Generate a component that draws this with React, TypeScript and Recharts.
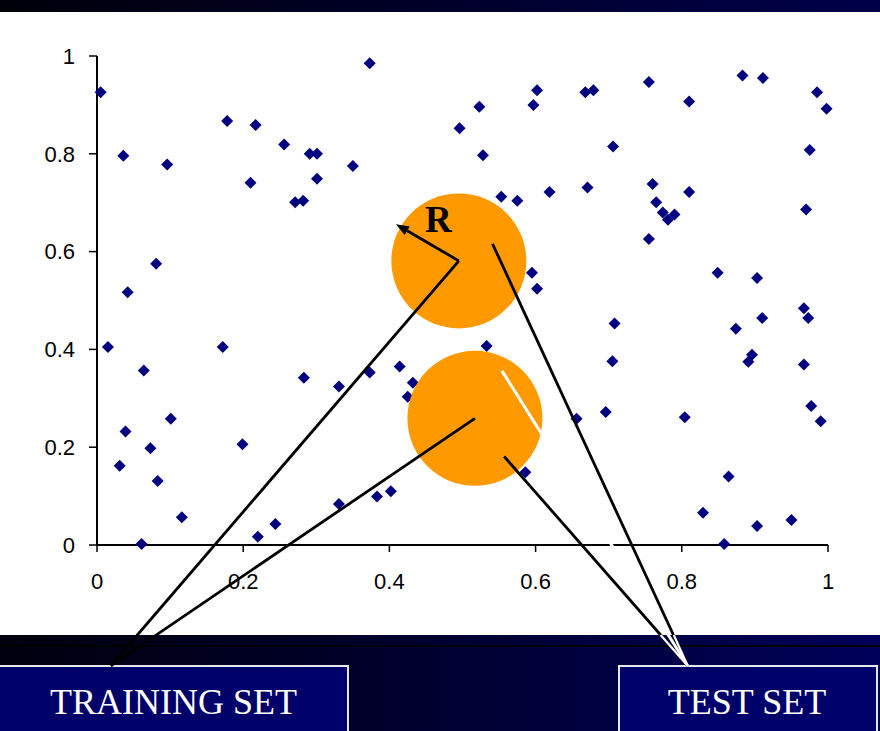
import { ScatterChart, Scatter, XAxis, YAxis, ReferenceDot, ReferenceLine } from 'recharts'

// scattered sample points
const pointX = [
  0.005, 0.036, 0.096, 0.178, 0.217, 0.256, 0.291, 0.301, 0.21, 0.301,
  0.271, 0.282, 0.081, 0.042, 0.373, 0.602, 0.668, 0.597, 0.523, 0.496,
  0.528, 0.35, 0.553, 0.575, 0.619, 0.671, 0.595, 0.602, 0.679, 0.755,
  0.81, 0.883, 0.911, 0.985, 0.998, 0.706, 0.975, 0.76, 0.81, 0.765,
  0.774, 0.79, 0.781, 0.755, 0.97, 0.849, 0.903, 0.015, 0.172, 0.064,
  0.283, 0.331, 0.101, 0.039, 0.073, 0.199, 0.031, 0.083, 0.116, 0.244,
  0.22, 0.061, 0.331, 0.533, 0.414, 0.373, 0.432, 0.425, 0.656, 0.586,
  0.383, 0.402, 0.708, 0.705, 0.696, 0.804, 0.874, 0.91, 0.967, 0.973,
  0.896, 0.891, 0.967, 0.977, 0.99, 0.864, 0.829, 0.903, 0.95, 0.858,
]
const pointY = [
  0.926, 0.796, 0.778, 0.867, 0.859, 0.819, 0.8, 0.8, 0.741, 0.749,
  0.701, 0.704, 0.575, 0.517, 0.985, 0.93, 0.926, 0.9, 0.896, 0.852,
  0.797, 0.775, 0.712, 0.704, 0.722, 0.731, 0.557, 0.524, 0.93, 0.947,
  0.907, 0.96, 0.955, 0.926, 0.892, 0.815, 0.808, 0.738, 0.722, 0.701,
  0.68, 0.676, 0.665, 0.626, 0.686, 0.557, 0.546, 0.405, 0.405, 0.357,
  0.342, 0.324, 0.258, 0.232, 0.198, 0.206, 0.162, 0.131, 0.057, 0.043,
  0.017, 0.002, 0.084, 0.407, 0.365, 0.353, 0.332, 0.303, 0.258, 0.149,
  0.099, 0.11, 0.453, 0.376, 0.272, 0.261, 0.442, 0.464, 0.484, 0.464,
  0.389, 0.375, 0.369, 0.284, 0.253, 0.14, 0.066, 0.039, 0.051, 0.002,
]
const axisTicks = [0, 0.2, 0.4, 0.6, 0.8, 1]

// annotation anchors (data units; negative y = below the axis, at the boxes)
const circleCenters = [
  { x: 0.495, y: 0.581 },
  { x: 0.517, y: 0.259 },
]
const trainingAnchor = { x: 0.019, y: -0.247 }
const testAnchor = { x: 0.808, y: -0.247 }
const testStarts = [
  { x: 0.541, y: 0.616 },
  { x: 0.557, y: 0.181 },
]
const testBandStarts = [
  { x: 0.789, y: -0.184 },
  { x: 0.771, y: -0.184 },
]
const whiteStrokeStart = { x: 0.554, y: 0.356 }
const arrowTip = { x: 0.409, y: 0.656 }
const radiusLabel = { x: 0.467, y: 0.665 }

const points = pointX.map((x, i) => ({ x, y: pointY[i] }))

const Diamond = (p: any) => {
  const { cx, cy } = p
  const s = 6
  return <polygon points={`${cx},${cy - s} ${cx + s},${cy} ${cx},${cy + s} ${cx - s},${cy}`} fill="#000080" />
}

const Arrow = (p: any) => {
  const { x1, y1, x2, y2 } = p
  const a = Math.atan2(y2 - y1, x2 - x1)
  const len = 13
  const w = 5
  const bx = x2 - len * Math.cos(a)
  const by = y2 - len * Math.sin(a)
  const pts = `${x2},${y2} ${bx + w * Math.sin(a)},${by - w * Math.cos(a)} ${bx - w * Math.sin(a)},${by + w * Math.cos(a)}`
  return (
    <g>
      <line x1={x1} y1={y1} x2={bx} y2={by} stroke="#000" strokeWidth={2.8} />
      <polygon points={pts} fill="#000" />
    </g>
  )
}

const tickStyle = { fontSize: 22, fill: '#000', fontFamily: '"Liberation Sans", Arial, sans-serif' }
const boxText = {
  position: 'absolute' as const,
  top: 684,
  color: '#fff',
  fontFamily: '"Liberation Serif", "Times New Roman", serif',
  fontSize: 36,
  lineHeight: '36px',
  textAlign: 'center' as const,
}

export default function App() {
  return (
    <div style={{ position: 'absolute', left: 0, top: 0, width: 880, height: 731, background: '#fff', overflow: 'hidden' }}>
      <div style={{ position: 'absolute', left: 0, top: 0, width: 880, height: 12, background: 'linear-gradient(to right, #00000a, #00004a)' }} />
      <div style={{ position: 'absolute', left: 0, top: 635, width: 880, height: 96, background: 'linear-gradient(to right, #00000e, #000030 50%, #00005a)' }} />
      <div style={{ position: 'absolute', left: 0, top: 645, width: 880, height: 2, background: '#000' }} />
      <div style={{ position: 'absolute', left: -2, top: 665, width: 347, height: 80, border: '2px solid #e6e6ee', background: '#00006a' }} />
      <div style={{ position: 'absolute', left: 618, top: 665, width: 256, height: 80, border: '2px solid #e6e6ee', background: '#00006a' }} />
      <div style={{ ...boxText, left: 0, width: 347 }}>TRAINING SET</div>
      <div style={{ ...boxText, left: 618, width: 258 }}>TEST SET</div>

      <div style={{ position: 'absolute', left: 0, top: 0 }}>
        <ScatterChart width={880} height={731} margin={{ top: 56, right: 52, bottom: 146, left: 0 }}>
          <XAxis
            xAxisId="top"
            orientation="top"
            type="number"
            dataKey="x"
            domain={[0, 1]}
            height={0}
            tick={false}
            tickLine={false}
            axisLine={{ stroke: '#333', strokeWidth: 2 }}
          />
          <YAxis
            yAxisId="right"
            orientation="right"
            type="number"
            dataKey="y"
            domain={[0, 1]}
            width={0}
            tick={false}
            tickLine={false}
            axisLine={{ stroke: '#333', strokeWidth: 2 }}
          />
          <XAxis
            type="number"
            dataKey="x"
            domain={[0, 1]}
            ticks={axisTicks}
            height={40}
            tick={tickStyle}
            tickSize={7}
            tickMargin={21}
            axisLine={{ stroke: '#000', strokeWidth: 2 }}
            tickLine={{ stroke: '#000', strokeWidth: 1.5 }}
          />
          <YAxis
            type="number"
            dataKey="y"
            domain={[0, 1]}
            ticks={axisTicks}
            width={97}
            tick={tickStyle}
            tickSize={8}
            tickMargin={14}
            axisLine={{ stroke: '#000', strokeWidth: 2 }}
            tickLine={{ stroke: '#000', strokeWidth: 1.5 }}
          />
          <Scatter data={points} shape={Diamond} isAnimationActive={false} />

          {circleCenters.map((c, i) => (
            <ReferenceDot key={`c${i}`} x={c.x} y={c.y} r={67.5} fill="#FF9900" stroke="none" ifOverflow="visible" zIndex={650} />
          ))}
          {circleCenters.map((c, i) => (
            <ReferenceLine
              key={`tr${i}`}
              segment={[c, trainingAnchor]}
              stroke="#000"
              strokeWidth={2.8}
              ifOverflow="visible"
              zIndex={700}
            />
          ))}
          {testStarts.map((s, i) => (
            <ReferenceLine
              key={`te${i}`}
              segment={[s, testAnchor]}
              stroke="#000"
              strokeWidth={2.8}
              ifOverflow="visible"
              zIndex={700}
            />
          ))}
          {testBandStarts.map((s, i) => (
            <ReferenceLine
              key={`tb${i}`}
              segment={[s, testAnchor]}
              stroke="#fff"
              strokeWidth={2.2}
              ifOverflow="visible"
              zIndex={710}
            />
          ))}
          <ReferenceLine segment={[whiteStrokeStart, testAnchor]} stroke="#fff" strokeWidth={3} ifOverflow="visible" zIndex={710} />
          <ReferenceLine segment={[circleCenters[0], arrowTip]} shape={Arrow} ifOverflow="visible" zIndex={720} />
          <ReferenceDot
            x={radiusLabel.x}
            y={radiusLabel.y}
            r={1}
            ifOverflow="visible"
            zIndex={730}
            shape={(p: any) => (
              <text
                x={p.cx}
                y={p.cy}
                textAnchor="middle"
                dominantBaseline="central"
                fontFamily='"Liberation Serif", "Times New Roman", serif'
                fontWeight="bold"
                fontSize={37}
                fill="#000"
              >
                R
              </text>
            )}
          />
        </ScatterChart>
      </div>
    </div>
  )
}
